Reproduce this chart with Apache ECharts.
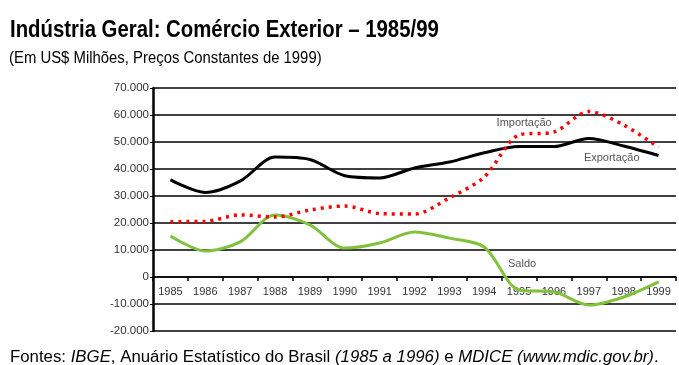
<!DOCTYPE html>
<html>
<head>
<meta charset="utf-8">
<script src="https://cdn.jsdelivr.net/npm/echarts@6/dist/echarts.min.js"></script>
<style>
  html, body { margin: 0; padding: 0; background: #fff; }
  #main { width: 679px; height: 365px; }
</style>
</head>
<body>
<div id="main"></div>
<script>
// anos
var anos = ['1985', '1986', '1987', '1988', '1989', '1990', '1991', '1992',
  '1993', '1994', '1995', '1996', '1997', '1998', '1999'];
// US$ milhões
var exportacao = [36000, 31300, 35500, 44400, 43500, 37500, 36700, 40400,
  42600, 46000, 48300, 48300, 51300, 48500, 45000];
var importacao = [20500, 20600, 23000, 22200, 24800, 26300, 23500, 23300,
  29300, 37000, 52600, 53700, 61300, 56300, 48000];
var saldo = [15200, 9600, 13000, 23000, 19300, 10700, 12600, 16700,
  14400, 11100, -4800, -5500, -10400, -7400, -1800];

var myChart = echarts.init(document.getElementById('main'));

var fonte = '"Liberation Sans", Arial, Helvetica, sans-serif';

// rótulo de texto junto à linha
function rotulo(texto, ano, valor, dx) {
  return {
    symbol: 'circle',
    symbolSize: 0,
    itemStyle: { color: 'transparent' },
    label: {
      show: true, position: 'inside', formatter: texto, offset: [dx || 0, 0],
      fontFamily: fonte, fontSize: 11, color: '#555'
    },
    data: [{ coord: [ano, valor] }]
  };
}

var option = {
  backgroundColor: '#fff',
  animation: false,
  graphic: [
    {
      type: 'text', x: 10, y: 19, scaleX: 0.885,
      style: { text: 'Indústria Geral: Comércio Exterior – 1985/99', font: 'bold 23px ' + fonte, fill: '#000' }
    },
    {
      type: 'text', x: 9, y: 51, scaleX: 0.93,
      style: { text: '(Em US$ Milhões, Preços Constantes de 1999)', font: '16px ' + fonte, fill: '#000' }
    },
    {
      type: 'text', x: 10, y: 350, scaleX: 1.05,
      style: {
        text: 'Fontes: {i|IBGE}, Anuário Estatístico do Brasil {i|(1985 a 1996)} e {i|MDICE (www.mdic.gov.br)}.',
        font: '16px ' + fonte, fill: '#000',
        rich: { i: { fontFamily: fonte, fontSize: 16, fontStyle: 'italic', fill: '#000' } }
      }
    }
  ],
  grid: { left: 153, right: 3, top: 88, bottom: 34 },
  xAxis: {
    type: 'category',
    data: anos,
    boundaryGap: true,
    axisLine: { onZero: true, lineStyle: { color: '#000', width: 1.5 } },
    axisTick: { show: true, length: 4, lineStyle: { color: '#000', width: 1.5 } },
    axisLabel: { fontFamily: fonte, fontSize: 11, color: '#333', margin: -45, interval: 0 },
    splitLine: { show: false }
  },
  yAxis: {
    type: 'value',
    min: -20000, max: 70000, interval: 10000,
    axisLine: { show: true, lineStyle: { color: '#000', width: 2.5 } },
    axisTick: { show: true, length: 3, lineStyle: { color: '#000' } },
    axisLabel: {
      fontFamily: fonte, fontSize: 11.5, color: '#333', margin: 4,
      formatter: function (v) { return v === 0 ? '0' : (v / 1000) + '.000'; }
    },
    splitLine: { lineStyle: { color: '#000', width: 1.5 } }
  },
  series: [
    {
      name: 'Importação',
      type: 'line',
      data: importacao,
      smooth: 0.3,
      symbol: 'none',
      lineStyle: { color: '#ff0000', width: 3.5, type: [3, 5] },
      markPoint: rotulo('Importação', '1995', 57000, 5),
      z: 3
    },
    {
      name: 'Exportação',
      type: 'line',
      data: exportacao,
      smooth: 0.3,
      symbol: 'none',
      lineStyle: { color: '#000', width: 3 },
      markPoint: rotulo('Exportação', '1998', 44000, -12),
      z: 2
    },
    {
      name: 'Saldo',
      type: 'line',
      data: saldo,
      smooth: 0.3,
      symbol: 'none',
      lineStyle: { color: '#80c23c', width: 3 },
      markPoint: rotulo('Saldo', '1995', 4800, 3),
      z: 2
    }
  ]
};

myChart.setOption(option);
</script>
</body>
</html>
